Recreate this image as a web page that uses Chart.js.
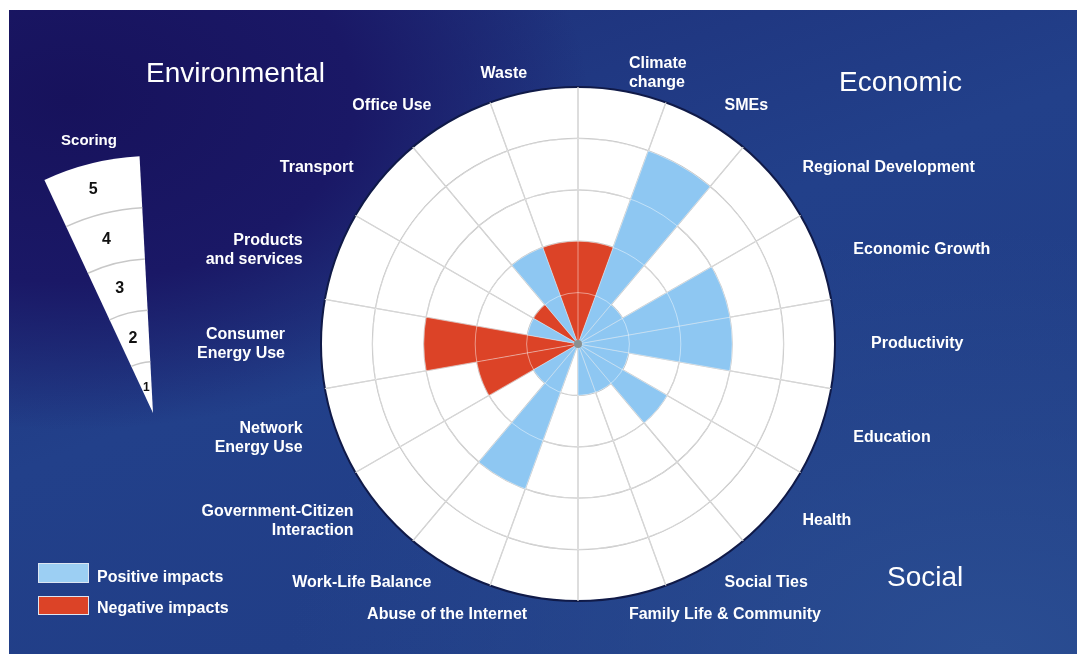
<!DOCTYPE html>
<html>
<head>
<meta charset="utf-8">
<script src="https://cdn.jsdelivr.net/npm/chart.js@4"></script>
<style>
  body { margin: 0; background: #ffffff; font-family: "Liberation Sans", Arial, sans-serif; }
  #panel {
    position: absolute; left: 9px; top: 10px; width: 1068px; height: 644px; overflow: hidden;
    background:
      radial-gradient(ellipse 520px 330px at 60px 90px, #17125c 0%, #1a1866 55%, rgba(26,24,102,0) 100%),
      radial-gradient(ellipse 700px 420px at 980px 640px, #2a4d92 0%, rgba(42,77,146,0) 100%),
      linear-gradient(160deg, #1d2c76 0%, #22408a 45%, #203c84 100%);
  }
  #chart { position: absolute; left: 0; top: 0; }
  .title { position: absolute; color: #ffffff; font-size: 28px; }
  .box { position: absolute; left: 38px; width: 49px; border: 1px solid #dde6f2; }
  .legend { position: absolute; left: 97px; color: #fff; font-weight: bold; font-size: 16px; line-height: 18px; }
</style>
</head>
<body>
<div id="panel"></div>
<canvas id="chart" width="1077" height="664"></canvas>
<div class="title" style="left:146px; top:57px;">Environmental</div>
<div class="title" style="left:839px; top:66px;">Economic</div>
<div class="title" style="left:887px; top:561px;">Social</div>
<div class="box" style="top:563px; height:18px; background:#9ccff3;"></div>
<div class="legend" style="top:568px;">Positive impacts</div>
<div class="box" style="top:596px; height:17px; background:#dc4327;"></div>
<div class="legend" style="top:599px;">Negative impacts</div>
<script>
// categories go clockwise from the top
const categories = [
  ['Climate', 'change'], 'SMEs', 'Regional Development', 'Economic Growth', 'Productivity',
  'Education', 'Health', 'Social Ties', 'Family Life & Community', 'Abuse of the Internet',
  'Work-Life Balance', ['Government-Citizen', 'Interaction'], ['Network', 'Energy Use'],
  ['Consumer', 'Energy Use'], ['Products', 'and services'], 'Transport', 'Office Use', 'Waste'
];
// scores 0-5
const positiveImpacts = [0, 4, 1, 3, 3, 1, 2, 1, 1, 0, 3, 1, 0, 0, 1, 0, 2, 0];
const negativeImpacts = [2, 0, 0, 0, 0, 0, 0, 0, 0, 0, 0, 0, 2, 3, 0, 1, 0, 2];
const scoreTicks = [1, 2, 3, 4, 5];

const blue = '#8ec7f2';
const red = '#dc4327';

// grid lines faintly visible through the wedges
const gridOnTop = {
  id: 'gridOnTop',
  afterDatasetsDraw(chart) {
    const s = chart.scales.r;
    const ctx = chart.ctx;
    ctx.save();
    ctx.strokeStyle = 'rgba(255,255,255,0.45)';
    ctx.lineWidth = 1;
    scoreTicks.slice(0, -1).forEach(v => {
      ctx.beginPath();
      ctx.arc(s.xCenter, s.yCenter, s.getDistanceFromCenterForValue(v), 0, Math.PI * 2);
      ctx.stroke();
    });
    for (let i = 0; i < categories.length; i++) {
      const p = s.getPointPositionForValue(i, 5);
      ctx.beginPath();
      ctx.moveTo(s.xCenter, s.yCenter);
      ctx.lineTo(p.x, p.y);
      ctx.stroke();
    }
    ctx.fillStyle = '#8a9090';
    ctx.beginPath();
    ctx.arc(s.xCenter, s.yCenter, 4, 0, Math.PI * 2);
    ctx.fill();
    ctx.restore();
  }
};

// category names round the wheel, centred on each wedge, a bit wider than tall
const categoryLabels = {
  id: 'categoryLabels',
  afterDraw(chart) {
    const s = chart.scales.r;
    const ctx = chart.ctx;
    const rx = s.drawingArea + 36, ry = s.drawingArea + 18;
    ctx.save();
    ctx.font = 'bold 16px "Liberation Sans", Arial';
    ctx.fillStyle = '#ffffff';
    ctx.textBaseline = 'middle';
    categories.forEach((label, i) => {
      const a = s.getIndexAngle(i) + Math.PI / categories.length;
      const sin = Math.sin(a), cos = Math.cos(a);
      const x = s.xCenter + rx * sin, y = s.yCenter - ry * cos;
      ctx.textAlign = Math.abs(sin) < 0.05 ? 'center' : (sin > 0 ? 'left' : 'right');
      const lines = [].concat(label);
      lines.forEach((t, k) => ctx.fillText(t, x, y + (k - (lines.length - 1) / 2) * 19));
    });
    ctx.restore();
  }
};

// the little "Scoring" key on the left, a single wedge with the same rings
const scoringKey = {
  id: 'scoringKey',
  afterDraw(chart) {
    const s = chart.scales.r;
    const ctx = chart.ctx;
    const ax = 153, ay = 413;
    const a0 = (-25 - 90) * Math.PI / 180, a1 = (-3 - 90) * Math.PI / 180;
    const R = s.getDistanceFromCenterForValue(5);
    ctx.save();
    ctx.fillStyle = '#ffffff';
    ctx.beginPath();
    ctx.moveTo(ax, ay);
    ctx.arc(ax, ay, R, a0, a1);
    ctx.closePath();
    ctx.fill();
    ctx.strokeStyle = '#c8c8c8';
    ctx.lineWidth = 1.5;
    scoreTicks.slice(0, -1).forEach(v => {
      ctx.beginPath();
      ctx.arc(ax, ay, s.getDistanceFromCenterForValue(v), a0, a1);
      ctx.stroke();
    });
    ctx.fillStyle = '#111';
    ctx.textAlign = 'center';
    ctx.textBaseline = 'middle';
    const am = (-15 - 90) * Math.PI / 180;
    scoreTicks.forEach(v => {
      const r = s.getDistanceFromCenterForValue(v - 0.5);
      ctx.font = 'bold ' + (v === 1 ? 12 : 16) + 'px "Liberation Sans", Arial';
      ctx.fillText(String(v), ax + r * Math.cos(am), ay + r * Math.sin(am));
    });
    ctx.fillStyle = '#ffffff';
    ctx.font = 'bold 15px "Liberation Sans", Arial';
    ctx.fillText('Scoring', 89, 141);
    ctx.restore();
  }
};

const chart = new Chart(document.getElementById('chart'), {
  type: 'polarArea',
  data: {
    labels: categories,
    datasets: [
      { label: 'Positive impacts', data: positiveImpacts, backgroundColor: blue, borderWidth: 0 },
      { label: 'Negative impacts', data: negativeImpacts, backgroundColor: red, borderWidth: 0 }
    ]
  },
  plugins: [gridOnTop, categoryLabels, scoringKey],
  options: {
    responsive: false,
    animation: false,
    layout: { padding: { left: 321, right: 242, top: 87, bottom: 63 } },
    plugins: { legend: { display: false }, tooltip: { enabled: false } },
    scales: {
      r: {
        min: 0,
        max: 5,
        backgroundColor: '#ffffff',
        ticks: { display: false, stepSize: 1 },
        grid: {
          circular: true,
          color: ctx => ctx.tick.value === 5 ? '#101a48' : '#b8b8b8',
          lineWidth: ctx => ctx.tick.value === 5 ? 2 : 1.2
        },
        angleLines: { display: true, color: '#b8b8b8', lineWidth: 1.2 },
        pointLabels: { display: false }
      }
    }
  }
});
</script>
</body>
</html>
